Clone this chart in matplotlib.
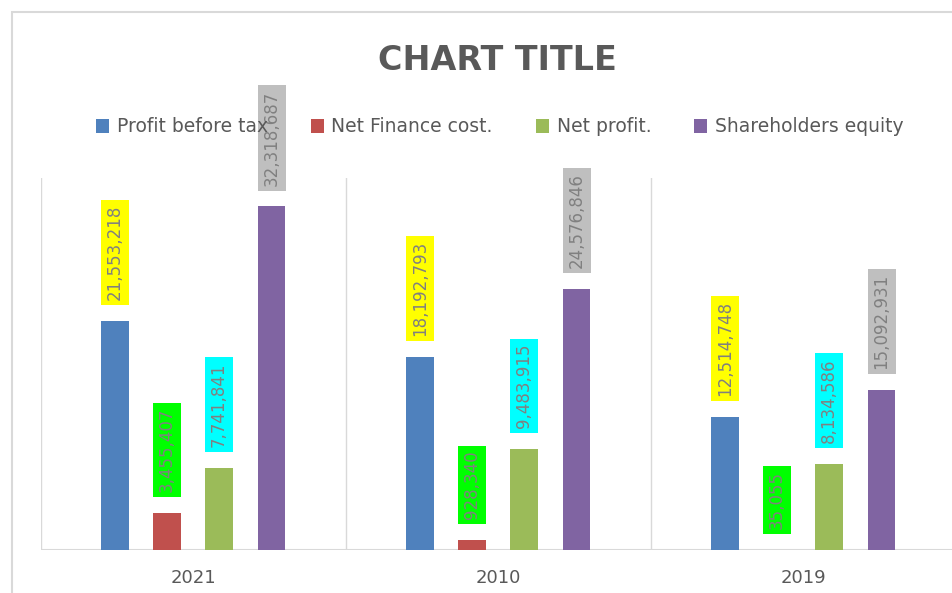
import numpy as np
import matplotlib.pyplot as plt
from matplotlib.patches import Rectangle

years = ['2021', '2010', '2019']
series = ['Profit before tax', 'Net Finance cost.', 'Net profit.', 'Shareholders equity']
profit_before_tax = [21553218, 18192793, 12514748]
net_finance_cost = [3455407, 928340, 35055]
net_profit = [7741841, 9483915, 8134586]
shareholders_equity = [32318687, 24576846, 15092931]

bar_colors = ['#4f81bd', '#c0504d', '#9bbb59', '#8064a2']
label_bg = ['#ffff00', '#00ff00', '#00ffff', '#bfbfbf']

values = [profit_before_tax, net_finance_cost, net_profit, shareholders_equity]
offsets = [-0.257, -0.087, 0.084, 0.256]

fig = plt.figure(figsize=(9.52, 5.93), dpi=100)
# chart border (chart area is larger than the visible picture)
fig.patches.append(Rectangle((12 / 952, -0.1), 1.2, 1 - 12 / 593 + 0.1,
                             transform=fig.transFigure, fill=False,
                             edgecolor='#d9d9d9', linewidth=1.5))

ax = fig.add_axes([41 / 952, 1 - 550 / 593, 915 / 952, 372 / 593])
x = np.arange(len(years))

handles = []
for i in range(4):
    b = ax.bar(x + offsets[i], values[i], width=0.09, color=bar_colors[i],
               label=series[i], zorder=2)
    handles.append(b)
    for xi, v in zip(x + offsets[i], values[i]):
        ax.annotate('{:,}'.format(v), (xi, v), xytext=(0, 15),
                    textcoords='offset points', rotation=90,
                    ha='center', va='bottom', fontsize=12, color='#808080',
                    annotation_clip=False, zorder=3,
                    bbox=dict(boxstyle='square,pad=0.3', fc=label_bg[i], ec='none'))

ax.set_xlim(-0.5, 2.5)
ax.set_ylim(0, 35000000)
for xv in [-0.5, 0.5, 1.5, 2.5]:
    ax.axvline(xv, color='#d9d9d9', linewidth=1, zorder=1)
ax.axhline(0, color='#d9d9d9', linewidth=1.5, zorder=1)

ax.set_xticks(x)
ax.set_xticklabels(years, fontsize=13, color='#595959')
ax.tick_params(axis='x', length=0, pad=14)
ax.set_yticks([])
for s in ax.spines.values():
    s.set_visible(False)

fig.text(0.522, 1 - 60 / 593, 'CHART TITLE', ha='center', va='center',
         fontsize=24, fontweight='bold', color='#595959')

leg = fig.legend(handles=handles, loc='center', bbox_to_anchor=(0.525, 1 - 127 / 593),
                 ncol=4, frameon=False, fontsize=13.5, handlelength=0.7,
                 handleheight=0.7, handletextpad=0.4, columnspacing=2.3)
for t in leg.get_texts():
    t.set_color('#595959')
leg.set_zorder(10)

fig.savefig('out.png', dpi=100)
